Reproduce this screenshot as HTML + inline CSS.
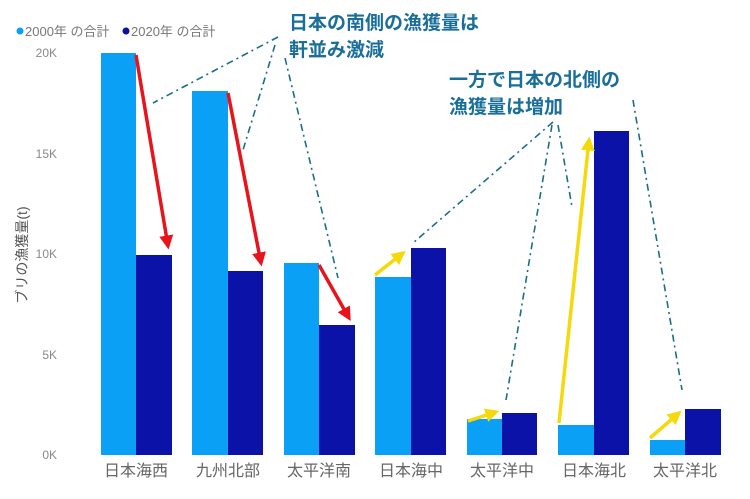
<!DOCTYPE html>
<html><head><meta charset="utf-8"><style>
body{margin:0;background:#fff;}
svg text{font-family:"Liberation Sans","Noto Sans CJK JP",sans-serif;}
</style></head><body>
<svg width="750" height="494" viewBox="0 0 750 494" xmlns="http://www.w3.org/2000/svg">
<defs>
<marker id="ar" markerWidth="4" markerHeight="4" refX="3" refY="2" orient="auto"><path d="M0,0 L4,2 L0,4 z" fill="#e8141c"/></marker>
<marker id="ay" markerWidth="4" markerHeight="4" refX="3" refY="2" orient="auto"><path d="M0,0 L4,2 L0,4 z" fill="#f5d90a"/></marker>
</defs>
<circle cx="20" cy="31" r="3.5" fill="#0aa0f5"/>
<text x="25" y="36" font-size="13" fill="#777">2000年 の合計</text>
<circle cx="126" cy="31" r="3.5" fill="#0a129e"/>
<text x="131" y="36" font-size="13" fill="#777">2020年 の合計</text>
<g font-size="12" fill="#888" text-anchor="end">
<text x="57" y="57">20K</text><text x="57" y="158">15K</text><text x="57" y="258">10K</text><text x="57" y="359">5K</text><text x="57" y="459">0K</text>
</g>
<text transform="translate(27,255) rotate(-90)" font-size="14" fill="#555" text-anchor="middle">ブリの漁獲量(t)</text>
<g fill="#0aa0f5">
<rect x="101" y="53" width="35" height="402"/><rect x="192" y="91" width="36" height="364"/><rect x="284" y="263" width="35" height="192"/><rect x="375" y="277" width="36" height="178"/><rect x="467" y="419" width="35" height="36"/><rect x="558" y="425" width="36" height="30"/><rect x="650" y="440" width="35" height="15"/>
</g>
<g fill="#0a12a8">
<rect x="136" y="255" width="36" height="200"/><rect x="228" y="271" width="35" height="184"/><rect x="319" y="325" width="36" height="130"/><rect x="411" y="248" width="35" height="207"/><rect x="502" y="413" width="35" height="42"/><rect x="594" y="131" width="35" height="324"/><rect x="685" y="409" width="36" height="46"/>
</g>
<g font-size="16" fill="#666" text-anchor="middle">
<text x="136" y="476">日本海西</text><text x="228" y="476">九州北部</text><text x="319" y="476">太平洋南</text><text x="411" y="476">日本海中</text><text x="502" y="476">太平洋中</text><text x="594" y="476">日本海北</text><text x="685" y="476">太平洋北</text>
</g>
<g stroke="#e8141c" stroke-width="3.5" marker-end="url(#ar)">
<line x1="136" y1="55" x2="168" y2="246"/><line x1="228" y1="93" x2="261" y2="263"/><line x1="319" y1="265" x2="349" y2="318"/>
</g>
<g stroke="#f5d90a" stroke-width="3.5" marker-end="url(#ay)">
<line x1="375" y1="275" x2="403" y2="253"/><line x1="468" y1="421" x2="496" y2="412"/><line x1="559" y1="423" x2="589" y2="140"/><line x1="650" y1="438" x2="679" y2="413"/>
</g>
<g stroke="#1a6e8a" stroke-width="1.6" stroke-dasharray="7,4,2,4" fill="none">
<line x1="278" y1="37" x2="153" y2="103"/><line x1="275" y1="45" x2="243" y2="150"/><line x1="285" y1="58" x2="338" y2="278"/>
<line x1="553" y1="122" x2="413" y2="243"/><line x1="552" y1="125" x2="506" y2="400"/><line x1="558" y1="125" x2="572" y2="207"/><line x1="633" y1="100" x2="682" y2="390"/>
</g>
<g font-size="19" font-weight="bold" fill="#1a6e9a">
<text x="289" y="29">日本の南側の漁獲量は</text><text x="289" y="56">軒並み激減</text>
<text x="449" y="86">一方で日本の北側の</text><text x="449" y="113">漁獲量は増加</text>
</g>
</svg>
</body></html>
